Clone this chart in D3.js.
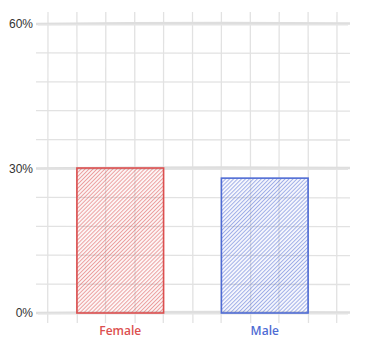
<!DOCTYPE html>
<html><head><meta charset="utf-8">
<script src="https://cdn.jsdelivr.net/npm/d3@7"></script>
<style>html,body{margin:0;padding:0;background:#fff;}svg{display:block;}</style>
</head><body><svg id="chart" width="378" height="361"></svg>
<script>
const categories = ["Female", "Male"];
const values = [30.1, 28.0];
const colors = ["#dc4f4f", "#4f6cd4"];
const yTicks = [0, 30, 60];
const yTickLabels = ["0%", "30%", "60%"];

const svg = d3.select("#chart");
const x0 = 48, x1 = 337, yTop = 24, yBot = 313;

const x = d3.scaleBand().domain(categories).range([x0, x1]).paddingInner(0.4).paddingOuter(0.2);
const y = d3.scaleLinear().domain([0, 60]).range([yBot, yTop]);
const gx = d3.scaleLinear().domain([0, 10]).range([x0, x1]);

const defs = svg.append("defs");
categories.forEach((c, i) => {
  const p = defs.append("pattern").attr("id", "hatch" + i).attr("patternUnits", "userSpaceOnUse")
    .attr("width", 2.8).attr("height", 4).attr("patternTransform", "rotate(45)");
  p.append("rect").attr("width", 2.8).attr("height", 4).attr("fill", colors[i]).attr("fill-opacity", 0.05);
  p.append("line").attr("x1", 0.5).attr("y1", 0).attr("x2", 0.5).attr("y2", 4)
    .attr("stroke", colors[i]).attr("stroke-width", 0.9).attr("stroke-opacity", 0.58);
});

const grid = svg.append("g");
d3.range(0, 11).forEach(k => {
  const xx = gx(k);
  grid.append("line").attr("x1", xx).attr("x2", xx + (k % 2 ? 0.4 : -0.3)).attr("y1", 12).attr("y2", 323)
    .attr("stroke", "#e2e2e2").attr("stroke-width", 1.3);
});
d3.range(0, 61, 6).forEach(v => {
  if (yTicks.includes(v)) return;
  grid.append("line").attr("x1", 36).attr("x2", 350).attr("y1", y(v)).attr("y2", y(v) + 0.4)
    .attr("stroke", "#e2e2e2").attr("stroke-width", 1.3);
});
yTicks.forEach((v, i) => {
  const yy = y(v);
  grid.append("path").attr("d", `M36,${yy} Q190,${yy - 1.5} 350,${yy - 0.5}`)
    .attr("fill", "none").attr("stroke", "#dedede").attr("stroke-width", 2.6);
  grid.append("path").attr("d", `M38,${yy + 0.8} Q200,${yy + 0.2} 348,${yy + 0.8}`)
    .attr("fill", "none").attr("stroke", "#e4e4e4").attr("stroke-width", 1.6);
});

svg.append("g").selectAll("text").data(yTicks).join("text")
  .attr("x", 33).attr("y", d => y(d)).attr("dy", "0.35em").attr("text-anchor", "end")
  .attr("font-family", "Liberation Sans, Arial, sans-serif").attr("font-size", 12).attr("fill", "#333")
  .text((d, i) => yTickLabels[i]);

svg.append("g").selectAll("rect").data(categories).join("rect")
  .attr("x", d => x(d)).attr("y", (d, i) => y(values[i]))
  .attr("width", x.bandwidth()).attr("height", (d, i) => y(0) - y(values[i]))
  .attr("fill", (d, i) => `url(#hatch${i})`)
  .attr("stroke", (d, i) => colors[i]).attr("stroke-width", 1.6);

svg.append("g").selectAll("text").data(categories).join("text")
  .attr("x", d => x(d) + x.bandwidth() / 2).attr("y", 335).attr("text-anchor", "middle")
  .attr("font-family", "Open Sans, sans-serif").attr("font-weight", 600).attr("font-size", 12)
  .attr("fill", (d, i) => colors[i]).text(d => d);
</script></body></html>
